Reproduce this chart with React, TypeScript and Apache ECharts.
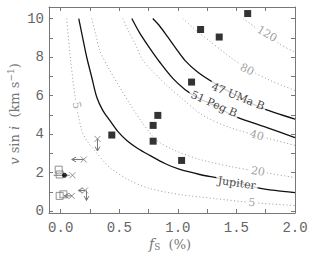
import React, { useEffect, useRef } from "react";
import * as echarts from "echarts";

// tick values
const xTickValues = [0, 0.25, 0.5, 0.75, 1, 1.25, 1.5, 1.75, 2];
const xLabelValues = [0, 0.5, 1, 1.5, 2];
const yTickValues = [0, 1, 2, 3, 4, 5, 6, 7, 8, 9, 10];
const yLabelValues = [0, 2, 4, 6, 8, 10];

// dotted contours (x = f_s %, y = v sin i)
const c5 = [[0.051, 10.0], [0.085, 7.83], [0.128, 5.75], [0.179, 4.19], [0.222, 3.67], [0.291, 3.14], [0.419, 2.26], [0.59, 1.59], [0.761, 1.17], [1.017, 0.86], [1.316, 0.65], [1.632, 0.44], [2.0, 0.29]];
const c20 = [[0.265, 10.0], [0.299, 9.18], [0.333, 8.35], [0.419, 7.31], [0.504, 6.43], [0.598, 5.49], [0.701, 4.55], [0.821, 3.67], [0.974, 3.15], [1.188, 2.68], [1.444, 2.32], [1.684, 2.06], [2.0, 1.74]];
const c40 = [[0.53, 10.0], [0.573, 9.4], [0.641, 8.61], [0.701, 7.83], [0.803, 7.15], [0.906, 6.53], [1.034, 5.85], [1.214, 4.97], [1.444, 4.34], [1.675, 3.93], [2.0, 3.41]];
const c80 = [[1.043, 10.0], [1.145, 9.44], [1.274, 8.82], [1.427, 8.09], [1.59, 7.41], [1.786, 6.79], [2.0, 6.27]];
const c120 = [[1.556, 10.0], [1.658, 9.55], [1.761, 9.13], [1.872, 8.66], [2.0, 8.25]];

// solid planet curves
const jupiter = [[0.154, 10.0], [0.188, 8.98], [0.222, 7.99], [0.265, 6.95], [0.308, 5.91], [0.359, 5.23], [0.419, 4.71], [0.487, 4.14], [0.564, 3.67], [0.658, 3.25], [0.761, 2.89], [0.889, 2.47], [1.017, 2.16], [1.188, 1.9], [1.359, 1.69], [1.504, 1.48], [1.675, 1.22], [1.829, 1.07], [2.0, 0.96]];
const peg51 = [[0.607, 10.0], [0.675, 9.24], [0.761, 8.45], [0.846, 7.73], [0.957, 6.89], [1.06, 6.32], [1.162, 5.91], [1.291, 5.54], [1.487, 4.92], [1.761, 4.34], [2.0, 3.82]];
const uma47 = [[0.786, 10.0], [0.846, 9.6], [0.915, 9.03], [0.983, 8.45], [1.06, 7.83], [1.171, 7.21], [1.316, 6.63], [1.53, 5.9], [1.701, 5.39], [2.0, 4.78]];

// curve labels: [x, y, text, rotation]
const dottedLabels = [[0.137, 5.49, "5", -78], [1.632, 0.44, "5", -5], [1.684, 2.06, "20", -10], [1.675, 3.93, "40", -14], [1.59, 7.35, "80", -25], [1.761, 9.2, "120", -30]];
const solidLabels = [[1.504, 1.45, "Jupiter", -8], [1.308, 5.56, "51 Peg B", -24], [1.513, 5.95, "47 UMa B", -22]];

// measured stars (filled squares)
const stars = [[0.436, 3.95], [0.789, 4.45], [0.789, 3.63], [0.829, 4.97], [1.117, 6.7], [1.194, 9.43], [1.353, 9.04], [1.596, 10.26], [1.032, 2.63]];
// open squares
const openSquares = [[-0.017, 2.15], [-0.009, 1.9], [-0.009, 0.79], [0.023, 0.87]];
// crosses (limits)
const crosses = [[0.197, 2.68], [0.1, 1.86], [0.094, 0.79], [0.208, 1.07], [0.314, 3.75]];
// black dot
const dots = [[0.032, 1.86]];
// arrows / bars: [x1, y1, x2, y2, head]
const arrows = [[0.197, 2.68, 0.094, 2.68, 1], [-0.06, 1.86, 0.077, 1.86, 0], [0.094, 0.79, 0.03, 0.79, 1], [0.208, 1.07, 0.15, 1.07, 1], [0.22, 1.07, 0.22, 0.55, 1], [0.314, 3.75, 0.314, 3.12, 1]];

const AX = "#777";
const MONO = "Liberation Mono";
const SERIF = "DejaVu Serif";

export default function App() {
  const ref = useRef<HTMLDivElement>(null);
  useEffect(() => {
    if (!ref.current) return;
    const chart = echarts.init(ref.current, undefined, { renderer: "svg" });
    const tickStyle = { show: true, inside: true, length: 4, lineStyle: { color: AX, width: 1 } };
    const mkX = (pos: string, labels: boolean) => ({
      type: "value", min: -0.1, max: 2, position: pos,
      axisLine: { show: true, onZero: false, lineStyle: { color: AX, width: 1 } },
      axisTick: { ...tickStyle, customValues: xTickValues },
      axisLabel: labels
        ? { show: true, customValues: xLabelValues, formatter: (v: number) => v.toFixed(1), color: "#666", fontFamily: MONO, fontSize: 14, margin: 8 }
        : { show: false },
      splitLine: { show: false },
    });
    const mkY = (pos: string, labels: boolean) => ({
      type: "value", min: -0.1, max: 10.6, position: pos,
      axisLine: { show: true, onZero: false, lineStyle: { color: AX, width: 1 } },
      axisTick: { ...tickStyle, customValues: yTickValues },
      axisLabel: labels
        ? { show: true, customValues: yLabelValues, formatter: (v: number) => String(v), color: "#666", fontFamily: MONO, fontSize: 14, margin: 5 }
        : { show: false },
      splitLine: { show: false },
    });
    const dotted = (d: number[][]) => ({
      type: "line", data: d, symbol: "none", smooth: 0.3, silent: true,
      lineStyle: { color: "#9a9a9a", width: 1, type: [1, 2.5] }, z: 2,
    });
    const solid = (d: number[][]) => ({
      type: "line", data: d, symbol: "none", smooth: 0.3, silent: true,
      lineStyle: { color: "#111", width: 1.3, type: "solid" }, z: 3,
    });
    const labelSeries = (arr: any[], color: string) => ({
      type: "scatter", symbolSize: 1, itemStyle: { color: "rgba(0,0,0,0)" }, z: 5,
      data: arr.map((l) => ({
        value: [l[0], l[1]],
        label: {
          show: true, position: "inside", formatter: l[2], rotate: l[3],
          color, fontFamily: SERIF, fontSize: 11, backgroundColor: "#fff", padding: [0, 2],
        },
      })),
    });
    chart.setOption({
      animation: false,
      grid: { left: 49, right: 21, top: 7, bottom: 43, containLabel: false, outerBoundsMode: "none" },
      xAxis: [mkX("bottom", true), mkX("top", false)],
      yAxis: [mkY("left", true), mkY("right", false)],
      series: [
        dotted(c5), dotted(c20), dotted(c40), dotted(c80), dotted(c120),
        solid(jupiter), solid(peg51), solid(uma47),
        labelSeries(dottedLabels, "#888"),
        labelSeries(solidLabels, "#111"),
        {
          type: "custom", z: 4, data: arrows,
          renderItem: (params: any, api: any) => {
            const p1 = api.coord([api.value(0), api.value(1)]);
            const p2 = api.coord([api.value(2), api.value(3)]);
            const head = api.value(4);
            const children: any[] = [
              { type: "line", shape: { x1: p1[0], y1: p1[1], x2: p2[0], y2: p2[1] }, style: { stroke: "#777", lineWidth: 1 } },
            ];
            if (head) {
              const ang = Math.atan2(p2[1] - p1[1], p2[0] - p1[0]);
              const L = 5, w = 0.5;
              const a1 = [p2[0] - L * Math.cos(ang - w), p2[1] - L * Math.sin(ang - w)];
              const a2 = [p2[0] - L * Math.cos(ang + w), p2[1] - L * Math.sin(ang + w)];
              children.push({ type: "polyline", shape: { points: [a1, p2, a2] }, style: { stroke: "#777", fill: "none", lineWidth: 1 } });
            }
            return { type: "group", children };
          },
        },
        {
          type: "scatter", data: openSquares, symbol: "rect", symbolSize: 7, z: 4,
          itemStyle: { color: "rgba(0,0,0,0)", borderColor: "#777", borderWidth: 1 },
        },
        {
          type: "scatter", data: crosses, symbol: "path://M0 0L10 10M10 0L0 10", symbolSize: 6, z: 4,
          itemStyle: { color: "none", borderColor: "#777", borderWidth: 1 },
        },
        { type: "scatter", data: dots, symbol: "circle", symbolSize: 5, z: 6, itemStyle: { color: "#000" } },
        { type: "scatter", data: stars, symbol: "rect", symbolSize: 7, z: 6, itemStyle: { color: "#000" } },
      ],
      graphic: [
        {
          type: "text", x: 14, y: 114, rotation: Math.PI / 2, z: 10,
          style: {
            text: "{i|v} sin {i|i}  (km s{sup|−1})", fill: "#777", font: `13px "${SERIF}"`,
            align: "center", verticalAlign: "middle",
            rich: {
              i: { fontStyle: "italic", fontFamily: SERIF, fontSize: 13, fill: "#777" },
              sup: { fontSize: 9, fontFamily: SERIF, verticalAlign: "top", fill: "#777", padding: [0, 0, 6, 0] },
            },
          },
        },
        {
          type: "text", x: 170, y: 244, z: 10,
          style: {
            text: "{i|f}{sub|S}  (%)", fill: "#777", font: `13px "${SERIF}"`,
            align: "center", verticalAlign: "middle",
            rich: {
              i: { fontStyle: "italic", fontFamily: SERIF, fontSize: 14, fill: "#777" },
              sub: { fontSize: 9, fontFamily: SERIF, fill: "#777", padding: [6, 0, 0, 0] },
            },
          },
        },
      ],
    });
    return () => chart.dispose();
  }, []);
  return <div ref={ref} style={{ width: 316, height: 256, position: "absolute", left: 0, top: 0 }} />;
}
